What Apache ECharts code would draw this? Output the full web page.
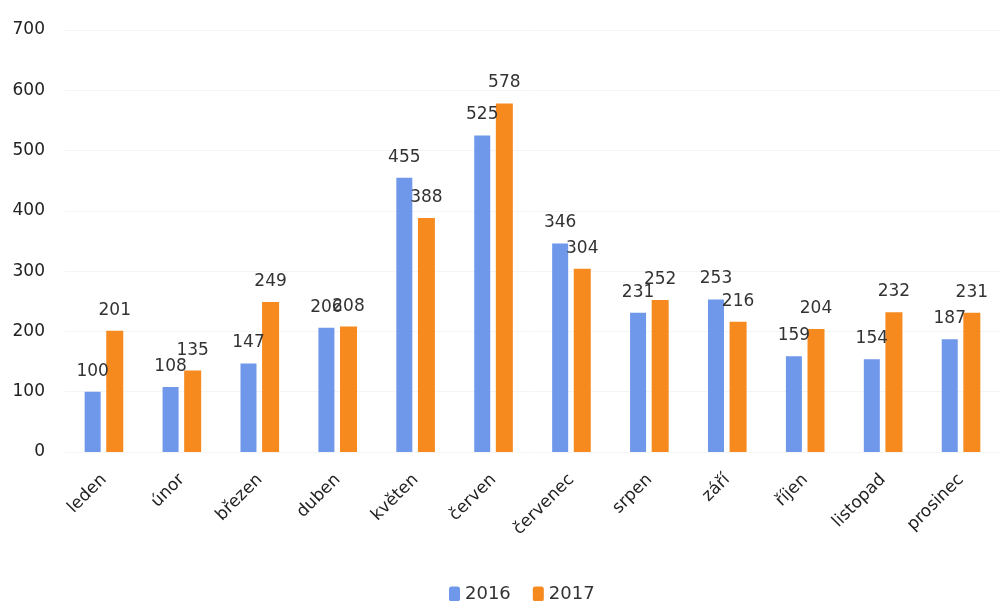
<!DOCTYPE html>
<html><head><meta charset="utf-8">
<script src="https://cdn.jsdelivr.net/npm/echarts@6/dist/echarts.min.js"></script>
<style>html,body{margin:0;padding:0;background:#fff}#c{width:1000px;height:601px}</style>
</head><body><div id="c"></div>
<script>
const months = ['leden','únor','březen','duben','květen','červen','červenec','srpen','září','říjen','listopad','prosinec'];
const values2016 = [100,108,147,206,455,525,346,231,253,159,154,187];
const values2017 = [201,135,249,208,388,578,304,252,216,204,232,231];
const yTicks = [0,100,200,300,400,500,600,700];

const chart = echarts.init(document.getElementById('c'));
const FF = 'DejaVu Sans, Liberation Sans, Arial';
const lbl = {show:true, position:'top', color:'#333', fontSize:17, fontFamily:FF, distance:12};
chart.setOption({
  animation:false,
  grid:{left:65, top:30, width:950, bottom:149, containLabel:false},
  legend:{top:580, left:444, itemWidth:11, itemHeight:15, itemGap:22,
    textStyle:{fontSize:18, color:'#333', fontFamily:FF}, data:['2016','2017']},
  xAxis:{type:'category', data:months, axisLine:{show:false}, axisTick:{show:false},
    axisLabel:{rotate:45, fontSize:17, color:'#222', margin:25, fontFamily:FF}},
  yAxis:{type:'value', min:yTicks[0], max:yTicks[yTicks.length-1], interval:100,
    axisLine:{show:false}, axisTick:{show:false},
    axisLabel:{fontSize:17, color:'#222', margin:20, fontFamily:FF},
    splitLine:{lineStyle:{color:'#f4f4f4'}}},
  series:[
    {name:'2016', type:'bar', data:values2016, barWidth:16, barGap:'35%', itemStyle:{color:'#6f97ea'}, label:lbl},
    {name:'2017', type:'bar', data:values2017, barWidth:17, itemStyle:{color:'#f68a1e'}, label:lbl}
  ]
});
</script></body></html>
